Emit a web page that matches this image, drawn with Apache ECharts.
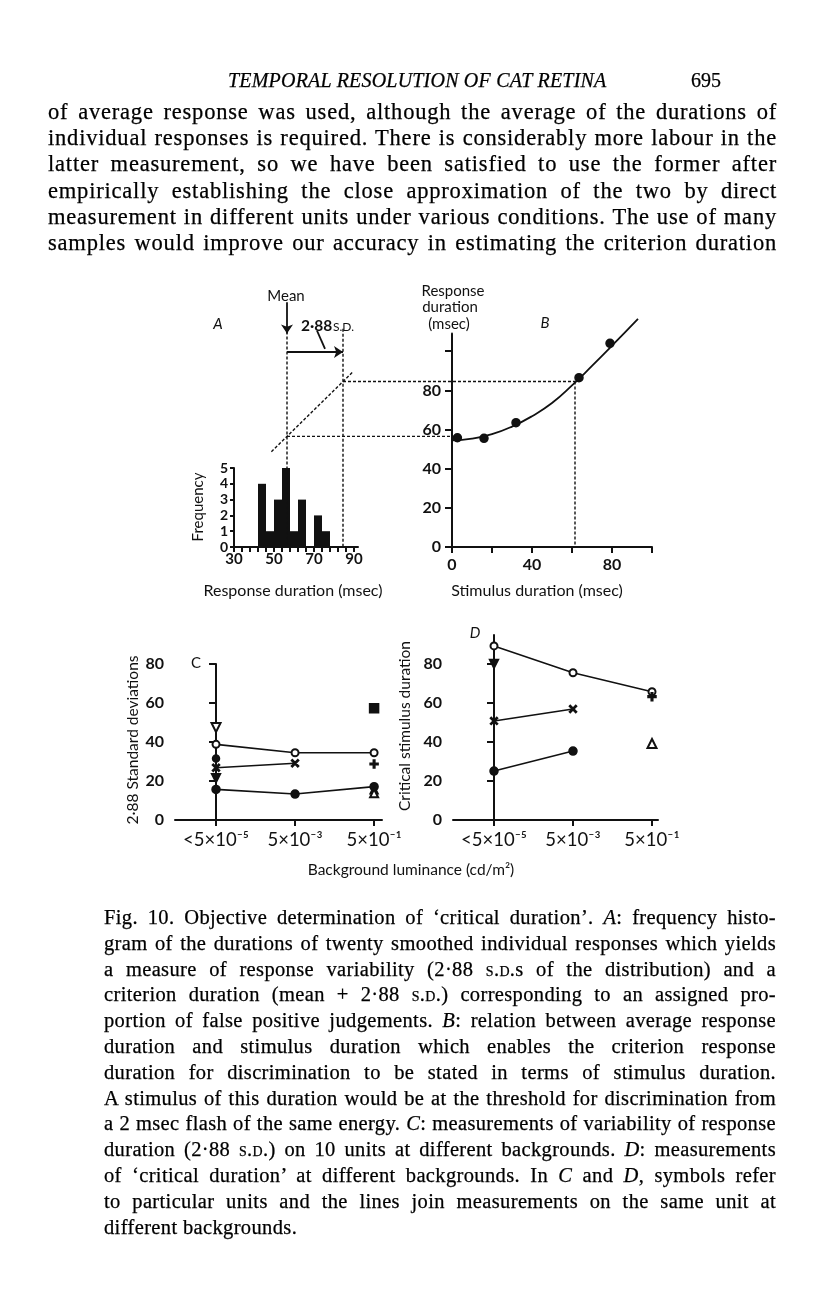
<!DOCTYPE html>
<html>
<head>
<meta charset="utf-8">
<script src="https://cdn.jsdelivr.net/npm/echarts@6/dist/echarts.min.js"></script>
<style>
body { margin: 0; background: #fff; }
#page { position: relative; width: 816px; height: 1296px; overflow: hidden; }
#chart { position: absolute; left: 0; top: 0; width: 816px; height: 1296px; }
.txt { position: absolute; font-family: "Liberation Serif", "DejaVu Serif", serif; color: #000; -webkit-text-stroke: 0.25px #000; }
.head { top: 69px; left: 228px; font-size: 20px; font-style: italic; letter-spacing: 0.2px; }
.page-no { top: 69px; left: 691px; font-size: 20px; }
.body { left: 48px; width: 729px; top: 99px; font-size: 22.5px; line-height: 26.2px; }
.cap { left: 104px; width: 672px; top: 905px; font-size: 20.5px; line-height: 25.8px; }
.body div, .cap div { text-align: justify; text-align-last: justify; }
.cap div.last { text-align-last: left; }
.measuring div { display: inline-block; white-space: nowrap; text-align: left !important; text-align-last: left !important; }
.sc { font-variant: small-caps; }
</style>
</head>
<body>
<div id="page">
  <div id="chart"></div>
  <div class="txt head">TEMPORAL RESOLUTION OF CAT RETINA</div>
  <div class="txt page-no">695</div>
  <div class="txt body" id="body">
    <div>of average response was used, although the average of the durations of</div>
    <div>individual responses is required. There is considerably more labour in the</div>
    <div>latter measurement, so we have been satisfied to use the former after</div>
    <div>empirically establishing the close approximation of the two by direct</div>
    <div>measurement in different units under various conditions. The use of many</div>
    <div>samples would improve our accuracy in estimating the criterion duration</div>
  </div>
  <div class="txt cap" id="cap">
    <div>Fig. 10. Objective determination of ‘critical duration’. <i>A</i>: frequency histo-</div>
    <div>gram of the durations of twenty smoothed individual responses which yields</div>
    <div>a measure of response variability (2·88 <span class="sc">s.d.</span>s of the distribution) and a</div>
    <div>criterion duration (mean + 2·88 <span class="sc">s.d.</span>) corresponding to an assigned pro-</div>
    <div>portion of false positive judgements. <i>B</i>: relation between average response</div>
    <div>duration and stimulus duration which enables the criterion response</div>
    <div>duration for discrimination to be stated in terms of stimulus duration.</div>
    <div>A stimulus of this duration would be at the threshold for discrimination from</div>
    <div>a 2 msec flash of the same energy. <i>C</i>: measurements of variability of response</div>
    <div>duration (2·88 <span class="sc">s.d.</span>) on 10 units at different backgrounds. <i>D</i>: measurements</div>
    <div>of ‘critical duration’ at different backgrounds. In <i>C</i> and <i>D</i>, symbols refer</div>
    <div>to particular units and the lines join measurements on the same unit at</div>
    <div class="last">different backgrounds.</div>
  </div>
</div>
<script>
// ---- data ----
// A: histogram of response durations (4 msec bins)
const binCenters = [44, 48, 52, 56, 60, 64, 68, 72, 76];
const binFreq = [4, 1, 3, 5, 1, 3, 0, 2, 1];
const freqTicks = [0, 1, 2, 3, 4, 5];
const respTicks = [30, 34, 38, 42, 46, 50, 54, 58, 62, 66, 70, 74, 78, 82, 86, 90];
const respLabels = [30, 50, 70, 90];
const meanR = 56.5;      // mean response duration
const critR = 84.5;      // mean + 2.88 s.d.
// B: response duration vs stimulus duration
const stimX = [2.7, 16, 32, 63.5, 79];
const respY = [55.8, 55.5, 63.5, 86.5, 104];
const curveX = [0, 10, 20, 30, 40, 50, 60, 70, 80, 93];
const curveY = [54.5, 55.3, 57.6, 61.5, 66.8, 73.5, 82.5, 92.5, 102.8, 116.5];
const critS = 61.5;      // critical stimulus duration
const stimTicks = [0, 20, 40, 60, 80, 100];
const stimLabels = [0, 40, 80];
const durTicks = [0, 20, 40, 60, 80, 100];
const durLabels = [0, 20, 40, 60, 80];
// C and D: background luminance categories
const lumLabels = ['<5×10⁻⁵', '5×10⁻³', '5×10⁻¹'];
const sdTicks = [0, 20, 40, 60, 80];
// C: 2.88 s.d. per unit, [category index, value]
const cOpen = [[0, 38.8], [1, 34.5], [2, 34.5]];
const cCross = [[0, 26.8], [1, 29.1]];
const cDot = [[0, 15.7], [1, 13.3], [2, 17.1]];
const cDownTriOpen = [[0, 47.4]];
const cSmallDot = [[0, 31.5]];
const cDownTri = [[0, 21.4]];
const cSquare = [[2, 57.3]];
const cPlus = [[2, 28.7]];
const cTri = [[2, 15.5]];
const cTriOpen = [[2, 13.7]];
// D: critical stimulus duration per unit
const dOpen = [[0, 88.9], [1, 75.2], [2, 65.5]];
const dCross = [[0, 50.6], [1, 56.7]];
const dDot = [[0, 25], [1, 35.2]];
const dDownTri = [[0, 79.7]];
const dPlus = [[2, 63]];
const dTriOpen = [[2, 39.1]];

// fit the justified text blocks: widen letters so word gaps stay small
function fitBlock(el, target) {
  const measure = () => {
    el.classList.add('measuring');
    let maxW = 0, maxN = 1;
    el.querySelectorAll('div').forEach(d => {
      const w = d.getBoundingClientRect().width;
      if (w > maxW) { maxW = w; maxN = d.textContent.length; }
    });
    el.classList.remove('measuring');
    return [maxW, maxN];
  };
  let [maxW, maxN] = measure();
  if (maxW > target) {
    const fs = parseFloat(getComputedStyle(el).fontSize);
    el.style.fontSize = (fs * target / maxW - 0.1).toFixed(2) + 'px';
    [maxW, maxN] = measure();
  }
  const ls = Math.max(0, (target - maxW) / maxN);
  el.style.letterSpacing = ls.toFixed(2) + 'px';
}
fitBlock(document.getElementById('body'), 722);
fitBlock(document.getElementById('cap'), 666);

// ---- layout ----
const Y0 = 547, PX = 1.958;
const SANS = 'Lato, "DejaVu Sans", sans-serif';
const INK = '#111';
const chart = echarts.init(document.getElementById('chart'));
const off = 139; // link grid x (response scale) of B's stimulus 0

const plusPath = 'path://M4.3,0h1.4v10h-1.4zM0,4.3h10v1.4h-10z';
const plusBold = 'path://M4,0h2v10h-2zM0,4h10v2h-10z';

function xAx(grid, min, max, ticks, labels, fmt, opt) {
  return Object.assign({
    type: 'value', gridIndex: grid, min: min, max: max,
    axisLine: { show: true, lineStyle: { color: INK, width: 2 } },
    axisTick: { show: true, customValues: ticks, length: 6, lineStyle: { color: INK, width: 2 } },
    axisLabel: { customValues: labels, color: INK, fontFamily: SANS, fontSize: 16, fontWeight: 'bold', margin: 10,
      showMinLabel: true, showMaxLabel: true, formatter: fmt || (v => String(v)) },
    splitLine: { show: false }
  }, opt || {});
}
function yAx(grid, min, max, ticks, labels, opt) {
  return Object.assign({
    type: 'value', gridIndex: grid, min: min, max: max,
    axisLine: { show: true, lineStyle: { color: INK, width: 2 } },
    axisTick: { show: true, customValues: ticks, length: 7, lineStyle: { color: INK, width: 2 } },
    axisLabel: { customValues: labels, color: INK, fontFamily: SANS, fontSize: 16, fontWeight: 'bold', margin: 11,
      showMinLabel: true, showMaxLabel: true },
    splitLine: { show: false }
  }, opt || {});
}
const hidden = (grid, min, max) => ({ type: 'value', gridIndex: grid, min: min, max: max, show: false });

const dash = { color: INK, width: 1.4, type: [3, 2] };
function seg(pts, grid) {
  return { type: 'line', xAxisIndex: grid, yAxisIndex: grid, data: pts, symbol: 'none',
    lineStyle: dash, silent: true, clip: false, z: 5 };
}
function mark(grid, data, symbol, size, opt) {
  return Object.assign({ type: 'scatter', xAxisIndex: grid, yAxisIndex: grid, data: data,
    symbol: symbol, symbolSize: size, itemStyle: { color: INK, borderColor: INK, borderWidth: 1.5, opacity: 1 }, z: 6 }, opt || {});
}
function joined(grid, data, symbol, size, opt) {
  return Object.assign({ type: 'line', xAxisIndex: grid, yAxisIndex: grid, data: data,
    symbol: symbol, symbolSize: size, showSymbol: true,
    lineStyle: { color: INK, width: 1.6 }, itemStyle: { color: INK, borderColor: INK, borderWidth: 1.5, opacity: 1 }, z: 6 }, opt || {});
}
const catFmt = v => lumLabels[Math.round(v)];
const catLabel = { fontSize: 18.5, fontWeight: 'normal', margin: 11 };

function txt(x, y, text, font, opt) {
  return Object.assign({ type: 'text', x: x, y: y, silent: true,
    style: { text: text, font: font, fill: INK,
      textAlign: (opt && opt.align) || 'center', textVerticalAlign: 'middle' } },
    opt && opt.rot ? { rotation: opt.rot } : {});
}
const F = s => 'normal ' + s + 'px ' + SANS;
const FI = s => 'italic ' + s + 'px ' + SANS;
const FB = s => 'bold ' + s + 'px ' + SANS;

const axA_x = xAx(0, 30, 92, respTicks, respLabels);
axA_x.axisTick.length = 5;
Object.assign(axA_x.axisLabel, { margin: 5, fontSize: 15 });
const axA_y = yAx(0, 0, 5, freqTicks, freqTicks);
axA_y.axisTick.length = 4;
Object.assign(axA_y.axisLabel, { margin: 6, fontSize: 14 });
const axC_x = xAx(3, -0.519, 2.1, [0, 1, 2], [0, 1, 2], catFmt);
Object.assign(axC_x.axisLabel, catLabel);
const axD_x = xAx(4, -0.519, 2.076, [0, 1, 2], [0, 1, 2], catFmt);
Object.assign(axD_x.axisLabel, catLabel);

const option = {
  animation: false,
  grid: [
    { left: 234, top: Y0 - 5 * 15.8, width: 124, height: 5 * 15.8 },          // A
    { left: 452, top: Y0 - 109 * PX, width: 200, height: 109 * PX },          // B
    { left: 234, top: Y0 - 136 * PX, width: 426, height: 136 * PX },          // link overlay
    { left: 175, top: 664, width: 207, height: 156 },                         // C
    { left: 453, top: 820 - 94.5 * PX, width: 205, height: 94.5 * PX }        // D
  ],
  xAxis: [
    axA_x,
    xAx(1, 0, 100, stimTicks, stimLabels),
    hidden(2, 30, 243),
    axC_x,
    axD_x
  ],
  yAxis: [
    axA_y,
    yAx(1, 0, 109, durTicks, durLabels),
    hidden(2, 0, 136),
    yAx(3, 0, 80, sdTicks, sdTicks),
    yAx(4, 0, 94.5, sdTicks, sdTicks)
  ],
  series: [
    // A histogram
    { type: 'bar', xAxisIndex: 0, yAxisIndex: 0, barWidth: 8,
      data: binCenters.map((c, i) => [c, binFreq[i]]), itemStyle: { color: INK }, z: 2 },
    // link construction between A and B
    seg([[meanR, 110], [meanR, 0]], 2),
    seg([[critR, 111.5], [critR, 0]], 2),
    seg([[48.7, 48.7], [89.6, 89.6]], 2),
    seg([[meanR, meanR], [off + 2, meanR]], 2),
    seg([[critR, critR], [off + critS, critR]], 2),
    seg([[critS, critR], [critS, 0]], 1),
    { type: 'lines', coordinateSystem: 'cartesian2d', xAxisIndex: 2, yAxisIndex: 2, z: 6,
      symbol: ['none', 'arrow'], symbolSize: 9, lineStyle: { color: INK, width: 1.8, opacity: 1 },
      data: [{ coords: [[meanR, 125], [meanR, 109]] }, { coords: [[meanR, 99.6], [critR, 99.6]] }] },
    { type: 'lines', coordinateSystem: 'cartesian2d', xAxisIndex: 2, yAxisIndex: 2, z: 6,
      symbol: 'none', lineStyle: { color: INK, width: 1.8, opacity: 1 },
      data: [{ coords: [[71.5, 110.5], [75.5, 101.2]] }] },
    // B curve and points
    { type: 'line', xAxisIndex: 1, yAxisIndex: 1, smooth: 0.5, symbol: 'none', clip: false,
      data: curveX.map((x, i) => [x, curveY[i]]), lineStyle: { color: INK, width: 1.8 }, z: 4 },
    mark(1, stimX.map((x, i) => [x, respY[i]]), 'circle', 8),
    // C
    joined(3, cOpen, 'emptyCircle', 7),
    joined(3, cCross, plusPath, 9, { symbolRotate: 45 }),
    joined(3, cDot, 'circle', 8),
    mark(3, cDownTriOpen, 'emptyTriangle', 9, { symbolRotate: 180 }),
    mark(3, cSmallDot, 'circle', 7),
    mark(3, cDownTri, 'triangle', 9, { symbolRotate: 180 }),
    mark(3, cSquare, 'rect', 9),
    mark(3, cPlus, plusBold, 8),
    mark(3, cTri, 'triangle', 8),
    mark(3, cTriOpen, 'emptyTriangle', 8),
    // D
    joined(4, dOpen, 'emptyCircle', 7),
    joined(4, dCross, plusPath, 9, { symbolRotate: 45 }),
    joined(4, dDot, 'circle', 8),
    mark(4, dDownTri, 'triangle', 9, { symbolRotate: 180 }),
    mark(4, dPlus, plusBold, 8),
    mark(4, dTriOpen, 'emptyTriangle', 9)
  ],
  graphic: [
    txt(286, 296, 'Mean', F(15)),
    txt(218, 324, 'A', FI(15)),
    txt(301, 326, '2·88', FB(15.5), { align: 'left' }),
    txt(333, 327, 'S.D.', F(12), { align: 'left' }),
    txt(453, 291, 'Response', F(15)),
    txt(450, 307, 'duration', F(15)),
    txt(449, 324, '(msec)', F(15)),
    txt(545, 323, 'B', FI(15)),
    txt(198, 507, 'Frequency', F(15), { rot: Math.PI / 2 }),
    txt(293, 591, 'Response duration (msec)', F(16)),
    txt(537, 591, 'Stimulus duration (msec)', F(16)),
    txt(196, 663, 'C', F(15)),
    txt(475, 633, 'D', FI(15)),
    txt(133, 740, '2·88 Standard deviations', F(15.5), { rot: Math.PI / 2 }),
    txt(405, 726, 'Critical stimulus duration', F(15.5), { rot: Math.PI / 2 }),
    txt(411, 870, 'Background luminance (cd/m²)', F(15.5))
  ]
};
chart.setOption(option);
</script>
</body>
</html>
